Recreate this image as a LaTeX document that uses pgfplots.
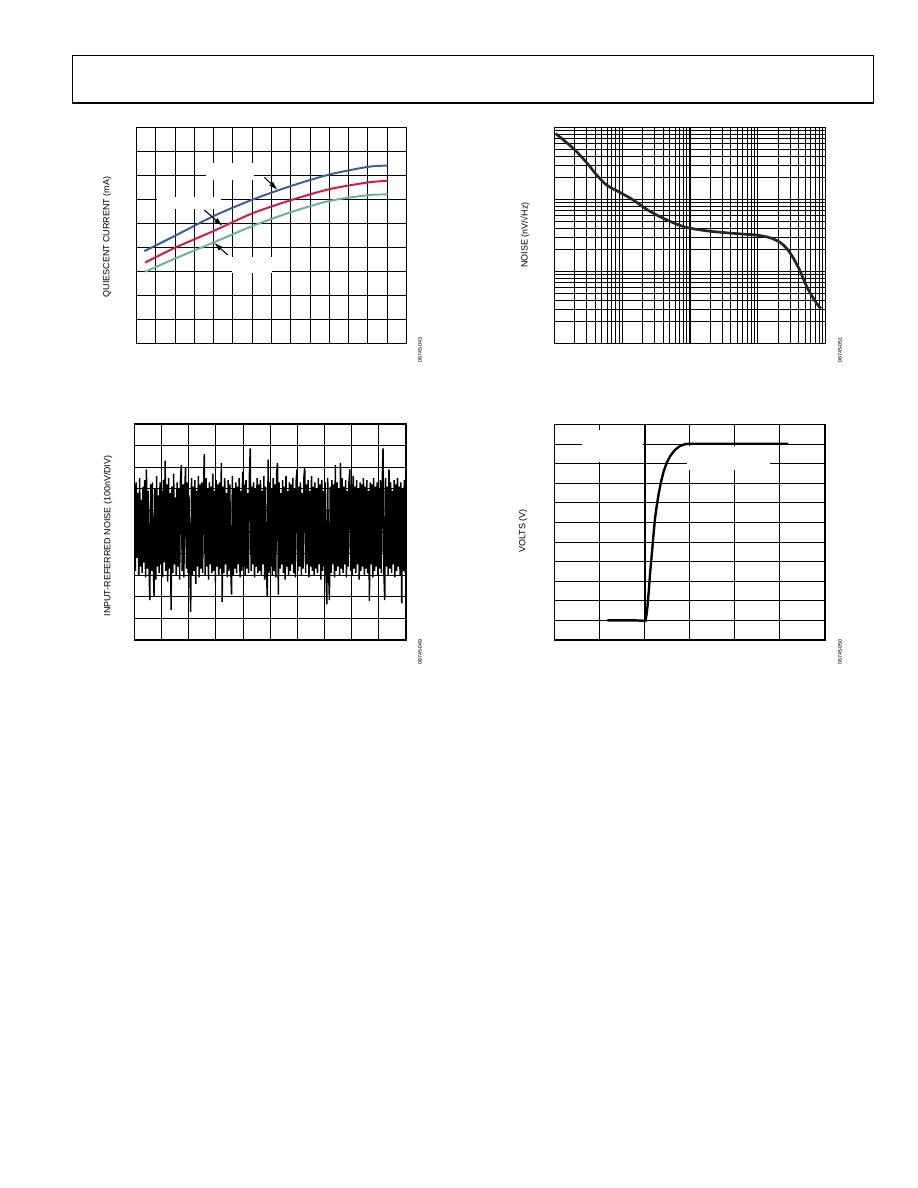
\documentclass[border=0pt]{standalone}
\usepackage{fontspec}
\setmainfont{Liberation Sans}
\usepackage{pgfplots}
\pgfplotsset{compat=1.18}
\usepackage{pgfplotstable}
\usetikzlibrary{arrows.meta}

\definecolor{cblue}{RGB}{58,92,160}
\definecolor{cred}{RGB}{226,18,58}
\definecolor{cgreen}{RGB}{102,182,142}

\pgfplotsset{
  page axis/.style={
    scale only axis, anchor=north west,
    axis line style={black, line width=0.75pt},
    grid=major,
    major grid style={black, line width=0.7pt},
    minor grid style={black, line width=0.6pt},
    xticklabels={}, yticklabels={},
    xticklabel style={text opacity=0}, yticklabel style={text opacity=0},
    major tick length=0pt, minor tick length=0pt,
  }
}

\pgfplotstableread[row sep=\\]{
y\\
7.2\\ 3.2\\ 7.3\\ 3.8\\ 6.8\\ 3.0\\ 7.5\\ 3.4\\ 6.5\\ 3.1\\
7.1\\ 3.6\\ 7.4\\ 2.9\\ 7.9\\ 3.3\\ 6.9\\ 3.5\\ 1.85\\ 7.2\\
3.2\\ 7.3\\ 3.7\\ 2.0\\ 7.0\\ 2.8\\ 7.6\\ 3.4\\ 6.7\\ 3.1\\
7.3\\ 3.5\\ 6.9\\ 2.9\\ 7.4\\ 3.6\\ 8.3\\ 3.2\\ 7.2\\ 2.7\\
7.5\\ 3.3\\ 6.8\\ 1.4\\ 7.1\\ 3.1\\ 7.7\\ 3.5\\ 6.6\\ 3.0\\
7.3\\ 3.4\\ 7.0\\ 2.8\\ 7.4\\ 8.1\\ 3.2\\ 7.2\\ 2.9\\ 6.9\\
8.0\\ 3.3\\ 7.3\\ 3.1\\ 6.7\\ 3.5\\ 1.3\\ 7.5\\ 3.0\\ 7.1\\
3.2\\ 7.4\\ 2.6\\ 6.9\\ 3.4\\ 7.6\\ 2.9\\ 7.2\\ 3.3\\ 7.3\\
3.1\\ 6.8\\ 8.6\\ 3.0\\ 7.5\\ 3.4\\ 7.0\\ 2.8\\ 7.3\\ 3.5\\
7.1\\ 3.1\\ 7.7\\ 3.2\\ 6.9\\ 2.7\\ 7.4\\ 3.4\\ 7.2\\ 3.0\\
7.3\\ 3.3\\ 8.2\\ 1.75\\ 7.1\\ 3.1\\ 7.5\\ 3.5\\ 6.8\\ 2.9\\
7.4\\ 3.2\\ 7.2\\ 3.4\\ 2.1\\ 7.6\\ 3.0\\ 7.0\\ 3.3\\ 7.3\\
3.1\\ 7.1\\ 3.5\\ 7.5\\ 2.9\\ 6.9\\ 3.2\\ 7.8\\ 3.4\\ 7.2\\
3.0\\ 7.4\\ 3.3\\ 6.8\\ 3.1\\ 7.6\\ 8.87\\ 3.2\\ 7.1\\ 3.5\\
7.3\\ 2.9\\ 7.0\\ 3.4\\ 7.5\\ 3.1\\ 7.2\\ 3.2\\ 7.4\\ 3.0\\
6.9\\ 3.5\\ 7.6\\ 2.8\\ 7.1\\ 3.3\\ 2.0\\ 8.35\\ 3.1\\ 7.3\\
3.4\\ 7.0\\ 3.0\\ 7.5\\ 3.2\\ 7.2\\ 2.9\\ 7.7\\ 8.2\\ 2.1\\
7.3\\ 3.3\\ 6.8\\ 3.5\\ 7.4\\ 3.1\\ 7.1\\ 2.8\\ 7.6\\ 3.4\\
6.9\\ 3.0\\ 7.3\\ 3.2\\ 7.2\\ 3.5\\ 7.5\\ 3.1\\ 7.0\\ 2.9\\
7.4\\ 7.9\\ 3.2\\ 7.1\\ 3.4\\ 7.3\\ 3.0\\ 6.8\\ 3.3\\ 7.5\\
8.0\\ 3.1\\ 7.2\\ 3.5\\ 7.4\\ 2.9\\ 6.9\\ 3.4\\ 7.6\\ 3.2\\
7.1\\ 3.0\\ 7.3\\ 3.3\\ 7.0\\ 3.1\\ 7.5\\ 3.5\\ 7.2\\ 2.8\\
7.4\\ 3.2\\ 6.9\\ 3.4\\ 7.3\\ 3.0\\ 1.65\\ 7.5\\ 3.3\\ 1.85\\
7.1\\ 3.1\\ 7.4\\ 3.5\\ 7.2\\ 2.9\\ 8.1\\ 3.2\\ 7.3\\ 3.4\\
7.0\\ 3.0\\ 8.2\\ 3.3\\ 7.5\\ 3.1\\ 7.1\\ 3.5\\ 7.4\\ 2.9\\
6.9\\ 3.4\\ 7.3\\ 7.9\\ 3.2\\ 7.2\\ 3.0\\ 7.6\\ 3.3\\ 7.1\\
3.1\\ 7.4\\ 3.5\\ 7.0\\ 2.8\\ 7.3\\ 3.2\\ 7.2\\ 3.4\\ 7.5\\
3.0\\ 7.1\\ 3.3\\ 7.4\\ 3.1\\ 6.9\\ 1.8\\ 7.3\\ 3.5\\ 7.2\\
2.9\\ 7.5\\ 3.2\\ 7.1\\ 3.4\\ 7.3\\ 3.0\\ 7.0\\ 3.3\\ 7.4\\
3.1\\ 7.2\\ 8.87\\ 3.2\\ 1.85\\ 7.5\\ 3.4\\ 7.1\\ 3.0\\ 7.9\\
3.3\\ 7.3\\ 3.1\\ 6.9\\ 3.5\\ 7.4\\ 2.9\\ 7.2\\ 3.2\\ 7.5\\
3.4\\ 7.1\\ 3.0\\ 7.3\\ 1.7\\ 7.0\\ 3.2\\ 7.4\\ 3.1\\ 6.7\\
}\noisedata

\begin{document}
\begin{tikzpicture}
\useasboundingbox (0,0) rectangle (612bp,-792bp);

% ---------- Chart 1: quiescent current ----------
\begin{axis}[page axis, at={(91bp,-85bp)}, width=180bp, height=144bp,
  xmin=0, xmax=14, ymin=0, ymax=9, xtick={0,...,14}, ytick={0,...,9}]
\addplot[cblue, line width=1.3pt, smooth] coordinates {
 (0.41,3.85) (2,4.49) (4,5.31) (6,5.99) (8,6.56) (10,7.04) (12,7.36) (13.02,7.41)};
\addplot[cred, line width=1.3pt, smooth] coordinates {
 (0.45,3.375) (2,3.99) (4,4.69) (6,5.42) (8,5.97) (10,6.43) (12,6.71) (13.02,6.78)};
\addplot[cgreen, line width=1.3pt, smooth] coordinates {
 (0.45,2.99) (2,3.54) (4,4.21) (6,4.89) (8,5.47) (10,5.94) (12,6.18) (13.02,6.21)};
\end{axis}

% ---------- Chart 2: noise spectral density ----------
\begin{axis}[page axis, at={(369.67bp,-85bp)}, width=180.67bp, height=144bp,
  xmode=log, ymode=log, xmin=1, xmax=10000, ymin=1, ymax=1000,
  xtick={1,10,100,1000,10000}, ytick={1,10,100,1000}, grid=both]
\addplot[black!85, line width=1.8pt, smooth] coordinates {
 (1.035,826) (1.905,510.5) (2.999,322.8) (4.217,217.8) (5.916,158.1)
 (9.311,125.0) (14.66,97.9) (23.07,72.6) (36.31,57.4) (57.15,47.4)
 (89.74,40.8) (177.0,36.7) (311.9,34.8) (549.5,33.3) (968.3,32.0)
 (1524,29.4) (2143,25.3) (2685,20.8) (3373,15.2) (4227,10.1)
 (5297,6.12) (7031,3.87) (8531,3.06)};
\end{axis}

% ---------- Chart 3: input-referred noise ----------
\begin{axis}[page axis, at={(89.67bp,-282.67bp)}, width=181bp, height=144bp,
  xmin=0, xmax=10, ymin=0, ymax=10, xtick={0,...,10}, ytick={0,...,10}]
\addplot[black, line width=1.0pt, line join=miter, miter limit=2] table[x expr=\coordindex*10/319, y index=0] {\noisedata};
\end{axis}

% ---------- Chart 4: step response ----------
\begin{axis}[page axis, at={(369.67bp,-283bp)}, width=180.33bp, height=143.67bp,
  xmin=0, xmax=6, ymin=0, ymax=11, xtick={0,...,6}, ytick={0,...,11}]
\addplot[black, line width=1.4pt] coordinates {(2,11) (2,1.05)};
\addplot[black, line width=1.6pt] coordinates {
 (1.175,1.0) (1.8,1.0) (2.02,0.98) (2.04,1.28) (2.062,1.70) (2.09,2.47)
 (2.12,3.40) (2.16,4.42) (2.195,5.36) (2.23,6.21) (2.27,6.89) (2.31,7.45)
 (2.36,8.05) (2.42,8.6) (2.49,9.05) (2.57,9.4) (2.67,9.7) (2.78,9.9)
 (2.9,10.0) (3.0,10.02) (5.19,10.02)};
\end{axis}

% ---------- page furniture in pixel units ----------
\begin{scope}[x=0.66667bp, y=-0.66667bp]
% header box
\draw[line width=0.6pt] (72,103) -- (72,55) -- (873,55) -- (873,103);
\draw[line width=1.7pt] (71.5,103) -- (873.5,103);

% blank label boxes over grids
\fill[white] (206,163) rectangle (254,180);
\fill[white] (157,196.5) rectangle (221,209);
\fill[white] (232,256.5) rectangle (272,272.5);
\fill[white] (582,430) rectangle (643.3,462);
\fill[white] (687,445.5) rectangle (770,470);

% arrows chart 1
\draw[line width=0.7pt, -{Latex[length=6bp,width=3.6bp]}] (264.3,177.3) -- (277.7,190);
\draw[line width=0.7pt, -{Latex[length=6bp,width=3.6bp]}] (204.3,210) -- (222.7,226);
\draw[line width=0.7pt, -{Latex[length=6bp,width=3.6bp]}] (227.7,255) -- (214,242.7);

% axis titles
\begin{scope}[every node/.style={rotate=90, inner sep=0pt, font=\fontsize{6}{7}\selectfont}]
\node at (107,237) {QUIESCENT CURRENT (mA)};
\node at (525,235) {NOISE (nV/√Hz)};
\node at (108,536) {INPUT-REFERRED NOISE (100nV/DIV)};
\node at (523,531) {VOLTS (V)};
\end{scope}
% figure codes
\begin{scope}[every node/.style={rotate=90, inner sep=0pt, font=\fontsize{3.6}{4}\selectfont}]
\node at (420,350) {06745-043};
\node at (840,350) {06745-051};
\node at (420,652) {06745-049};
\node at (840,652) {06745-050};
\end{scope}
\end{scope}
\end{tikzpicture}
\end{document}
